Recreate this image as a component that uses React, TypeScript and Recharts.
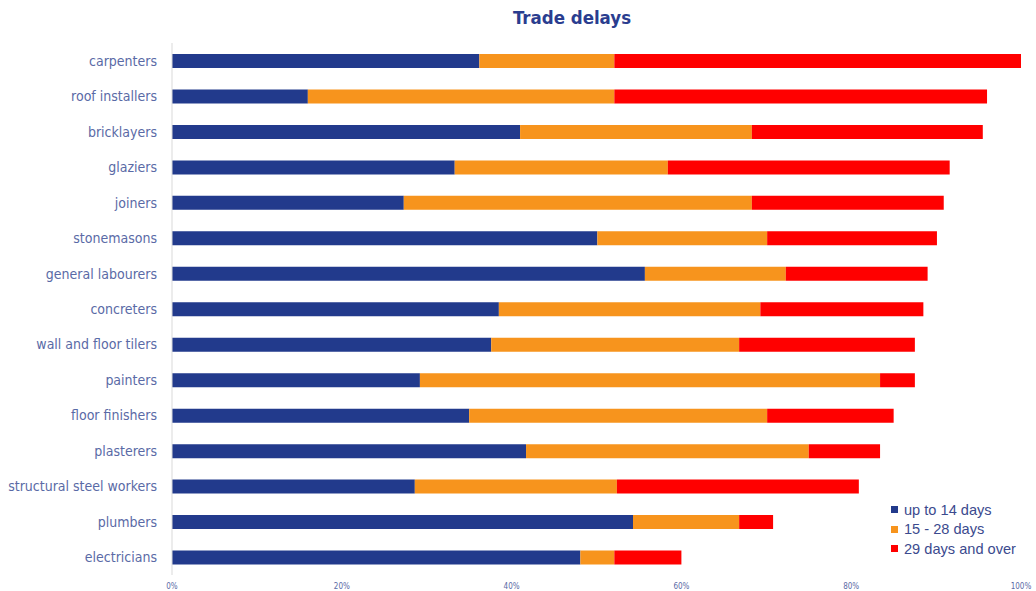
import { Bar, BarChart, XAxis, YAxis } from "recharts";

const trades = [
  "carpenters",
  "roof installers",
  "bricklayers",
  "glaziers",
  "joiners",
  "stonemasons",
  "general labourers",
  "concreters",
  "wall and floor tilers",
  "painters",
  "floor finishers",
  "plasterers",
  "structural steel workers",
  "plumbers",
  "electricians",
];

const upTo14 = [36.2, 16.0, 41.0, 33.3, 27.3, 50.1, 55.7, 38.5, 37.6, 29.2, 35.0, 41.7, 28.6, 54.3, 48.1];
const days15to28 = [15.9, 36.1, 27.3, 25.1, 41.0, 20.0, 16.6, 30.8, 29.2, 54.2, 35.1, 33.3, 23.8, 12.5, 4.0];
const days29plus = [47.9, 43.9, 27.2, 33.2, 22.6, 20.0, 16.7, 19.2, 20.7, 4.1, 14.9, 8.4, 28.5, 4.0, 7.9];

const xTicks = [0, 20, 40, 60, 80, 100];

const data = trades.map((name, i) => ({
  name,
  a: upTo14[i],
  b: days15to28[i],
  c: days29plus[i],
}));

const legendItems = [
  { label: "up to 14 days", color: "#223a8c" },
  { label: "15 - 28 days", color: "#f7941d" },
  { label: "29 days and over", color: "#ff0000" },
];

const font = "'DejaVu Sans Condensed', 'DejaVu Sans', sans-serif";

export default function App() {
  return (
    <div style={{ position: "absolute", left: 0, top: 0, width: 1036, height: 591, background: "#fff" }}>
      <div
        style={{
          position: "absolute",
          left: 0,
          top: 7,
          width: 1144,
          textAlign: "center",
          fontFamily: font,
          fontWeight: "bold",
          fontSize: 18.5,
          color: "#2a3d8f",
        }}
      >
        Trade delays
      </div>
      <BarChart
        width={1036}
        height={591}
        data={data}
        layout="vertical"
        margin={{ top: 43, right: 15, left: 0, bottom: 0 }}
      >
        <XAxis
          type="number"
          domain={[0, 100]}
          ticks={xTicks}
          tickFormatter={(v) => `${v}%`}
          axisLine={false}
          tickLine={false}
          tickSize={0}
          tickMargin={8}
          height={16}
          tick={{ fontSize: 8, fill: "#5a6aa6", fontFamily: font }}
        />
        <YAxis
          type="category"
          dataKey="name"
          width={172}
          axisLine={{ stroke: "#d9d9d9" }}
          tickLine={false}
          tickSize={0}
          tickMargin={15}
          tick={{ fontSize: 14, fill: "#5a6aa6", fontFamily: font }}
        />
        <Bar dataKey="a" stackId="s" fill="#223a8c" barSize={14} isAnimationActive={false} />
        <Bar dataKey="b" stackId="s" fill="#f7941d" barSize={14} isAnimationActive={false} />
        <Bar dataKey="c" stackId="s" fill="#ff0000" barSize={14} isAnimationActive={false} />
      </BarChart>
      <div
        style={{
          position: "absolute",
          left: 891,
          top: 500,
          fontFamily: "'Liberation Sans', Arial, sans-serif",
          fontSize: 14.6,
          color: "#3b4a8e",
        }}
      >
        {legendItems.map((it) => (
          <div key={it.label} style={{ display: "flex", alignItems: "center", height: 19.5 }}>
            <span style={{ display: "inline-block", width: 7, height: 7, background: it.color, marginRight: 6 }} />
            {it.label}
          </div>
        ))}
      </div>
    </div>
  );
}
